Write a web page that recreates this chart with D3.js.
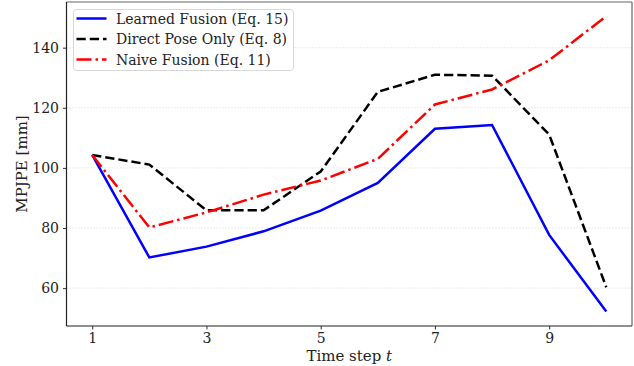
<!DOCTYPE html>
<html>
<head>
<meta charset="utf-8">
<script src="https://cdn.jsdelivr.net/npm/d3@7"></script>
<style>
  body { margin: 0; background: #fff; }
  svg { display: block; font-family: "DejaVu Serif", serif; }
</style>
</head>
<body>
<div id="chart"></div>
<script>
// values
var steps = [1, 2, 3, 4, 5, 6, 7, 8, 9, 10];
var learned = [104.3, 70.2, 73.8, 78.9, 85.8, 95.0, 113.0, 114.3, 77.7, 52.2];
var direct = [104.3, 101.1, 85.9, 85.9, 98.8, 125.3, 131.0, 130.7, 111.1, 60.3];
var naive = [104.3, 80.2, 85.2, 91.1, 95.8, 103.0, 121.1, 126.1, 135.8, 150.5];
var xTicks = [1, 3, 5, 7, 9];
var yTicks = [60, 80, 100, 120, 140];

var series = [
  { name: "Learned Fusion (Eq. 15)", values: learned, color: "#0000ff", dash: null },
  { name: "Direct Pose Only (Eq. 8)", values: direct, color: "#000000", dash: "9.25,4" },
  { name: "Naive Fusion (Eq. 11)", values: naive, color: "#ff0000", dash: "15,4,2.5,4" }
];

var W = 634, H = 366,
    margin = { top: 2, right: 2, bottom: 40, left: 66.5 },
    w = W - margin.left - margin.right,
    h = H - margin.top - margin.bottom;

var svg = d3.select("#chart").append("svg").attr("width", W).attr("height", H);
var g = svg.append("g").attr("transform", "translate(" + margin.left + "," + margin.top + ")");

var x = d3.scaleLinear().domain([0.55, 10.45]).range([0, w]);
var y = d3.scaleLinear().domain([47.4, 155.2]).range([h, 0]);

// grid
g.selectAll(".grid").data(yTicks).enter().append("line")
  .attr("x1", 0).attr("x2", w)
  .attr("y1", function(d) { return y(d); }).attr("y2", function(d) { return y(d); })
  .attr("stroke", "#cfcfcf").attr("stroke-width", 0.8).attr("stroke-dasharray", "1,2");

// axes
var xAxis = g.append("g").attr("transform", "translate(0," + h + ")")
  .call(d3.axisBottom(x).tickValues(xTicks).tickSize(3.5).tickPadding(4).tickFormat(d3.format("d")));
var yAxis = g.append("g")
  .call(d3.axisLeft(y).tickValues(yTicks).tickSize(3.5).tickPadding(4).tickFormat(d3.format("d")));
[xAxis, yAxis].forEach(function(a) {
  a.select(".domain").remove();
  a.selectAll("text").attr("font-family", "DejaVu Serif, serif").attr("font-size", 14).attr("fill", "#222");
  a.selectAll("line").attr("stroke", "#333");
});

// frame
g.append("line").attr("x1", 0).attr("x2", w).attr("y1", 0).attr("y2", 0).attr("stroke", "#666").attr("stroke-width", 1.2);
g.append("line").attr("x1", w).attr("x2", w).attr("y1", 0).attr("y2", h).attr("stroke", "#666").attr("stroke-width", 1.2);
g.append("line").attr("x1", 0).attr("x2", w).attr("y1", h).attr("y2", h).attr("stroke", "#222").attr("stroke-width", 1.2);
g.append("line").attr("x1", 0).attr("x2", 0).attr("y1", 0).attr("y2", h).attr("stroke", "#222").attr("stroke-width", 1.2);

// lines
var line = d3.line()
  .x(function(d, i) { return x(steps[i]); })
  .y(function(d) { return y(d); });

series.forEach(function(s) {
  g.append("path").datum(s.values)
    .attr("d", line)
    .attr("fill", "none")
    .attr("stroke", s.color)
    .attr("stroke-width", 2.5)
    .attr("stroke-dasharray", s.dash);
});

// axis labels
svg.append("text")
  .attr("x", margin.left + w / 2).attr("y", 361)
  .attr("text-anchor", "middle").attr("font-size", 15).attr("fill", "#222")
  .html('Time step <tspan font-style="italic">t</tspan>');
svg.append("text")
  .attr("transform", "translate(27," + (margin.top + h / 2) + ") rotate(-90)")
  .attr("text-anchor", "middle").attr("font-size", 15).attr("fill", "#222")
  .text("MPJPE [mm]");

// legend
var leg = svg.append("g").attr("transform", "translate(73.5,9.5)");
leg.append("rect").attr("width", 220).attr("height", 61).attr("rx", 3)
  .attr("fill", "#fff").attr("fill-opacity", 0.8).attr("stroke", "#d8d8d8");
series.forEach(function(s, i) {
  var yy = 9 + i * 20.5;
  leg.append("line").attr("x1", 3).attr("x2", 33).attr("y1", yy).attr("y2", yy)
    .attr("stroke", s.color).attr("stroke-width", 2.5).attr("stroke-dasharray", s.dash);
  leg.append("text").attr("x", 42.5).attr("y", yy + 5)
    .attr("font-size", 14).attr("fill", "#222").text(s.name);
});
</script>
</body>
</html>
